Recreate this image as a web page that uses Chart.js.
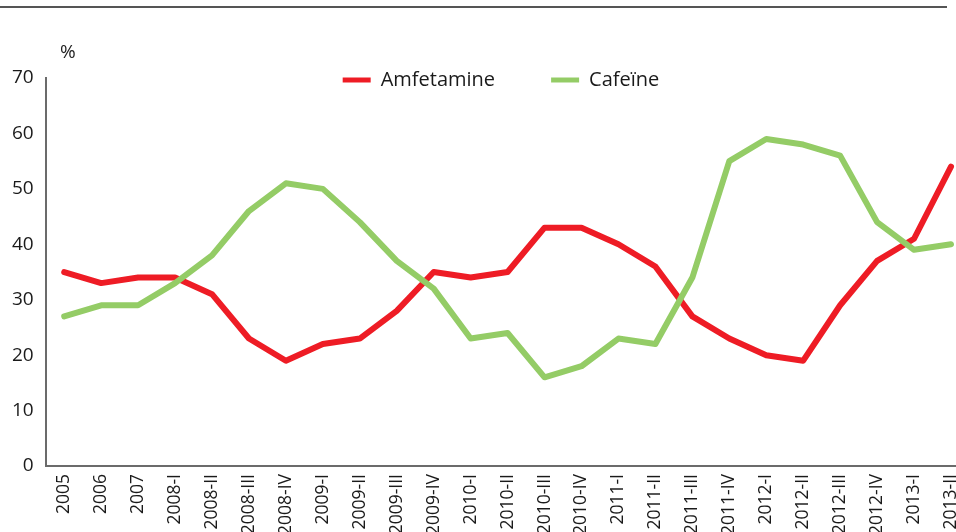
<!DOCTYPE html>
<html>
<head>
<meta charset="utf-8">
<script src="https://cdn.jsdelivr.net/npm/chart.js@4.4.1/dist/chart.umd.min.js"></script>
<style>
  html, body { margin: 0; padding: 0; background: #ffffff; overflow: hidden; width: 956px; height: 532px; }
  #wrap { position: absolute; left: 0; top: 0; width: 980px; height: 560px; }
</style>
</head>
<body>
<div id="wrap"><canvas id="c" width="980" height="560"></canvas></div>
<script>
const categories = ["2005","2006","2007","2008-I","2008-II","2008-III","2008-IV","2009-I","2009-II","2009-III","2009-IV","2010-I","2010-II","2010-III","2010-IV","2011-I","2011-II","2011-III","2011-IV","2012-I","2012-II","2012-III","2012-IV","2013-I","2013-II"];
const amfetamine = [35,33,34,34,31,23,19,22,23,28,35,34,35,43,43,40,36,27,23,20,19,29,37,41,54];
const cafeine    = [27,29,29,33,38,46,51,50,44,37,32,23,24,16,18,23,22,34,55,59,58,56,44,39,40];
const seriesNames = ["Amfetamine", "Cafeïne"];
const yTicks = [0,10,20,30,40,50,60,70];
const unitLabel = "%";

const FONT = "'Open Sans', sans-serif";
const AXIS = "#6b6b6b";
const LEGEND_SHIFT_X = 11;

const decor = {
  id: 'decor',
  afterLayout(chart) {
    const lg = chart.legend;
    if (lg) {
      lg.bottom = lg.top + 110;
      lg.height = 110;
      lg.left += LEGEND_SHIFT_X;
      lg.right += LEGEND_SHIFT_X;
    }
  },
  afterDraw(chart) {
    const ctx = chart.ctx;
    ctx.save();
    ctx.fillStyle = "#555555";
    ctx.fillRect(0, 6, 947, 2);
    ctx.fillStyle = "#222222";
    ctx.font = "19px " + FONT;
    ctx.textAlign = "left";
    ctx.textBaseline = "alphabetic";
    ctx.fillText(unitLabel, 60, 58);
    ctx.restore();
  }
};

new Chart(document.getElementById('c'), {
  type: 'line',
  data: {
    labels: categories,
    datasets: [
      { label: seriesNames[0], data: amfetamine, order: 1, borderColor: "#ee1c25", backgroundColor: "#ee1c25",
        borderWidth: 6, pointRadius: 0, tension: 0, borderCapStyle: 'round', borderJoinStyle: 'round' },
      { label: seriesNames[1], data: cafeine, order: 0, borderColor: "#94cc66", backgroundColor: "#94cc66",
        borderWidth: 6, pointRadius: 0, tension: 0, borderCapStyle: 'round', borderJoinStyle: 'round' }
    ]
  },
  options: {
    responsive: false,
    animation: false,
    events: [],
    layout: { padding: { top: 14, left: 0, right: 0, bottom: 17 } },
    plugins: {
      tooltip: { enabled: false },
      legend: {
        position: 'top',
        align: 'center',
        maxHeight: 64,
        labels: {
          font: { family: FONT, size: 20 },
          color: "#1a1a1a",
          boxWidth: 28,
          boxHeight: 5,
          padding: 56,
          generateLabels(chart) {
            const items = Chart.defaults.plugins.legend.labels.generateLabels(chart);
            items.forEach(i => { i.lineWidth = 0; i.fillStyle = i.strokeStyle; });
            items.sort((a, b) => a.datasetIndex - b.datasetIndex);
            return items;
          }
        }
      }
    },
    scales: {
      x: {
        type: 'category',
        offset: true,
        grid: { display: false, drawTicks: false },
        border: { display: true, color: AXIS, width: 2 },
        ticks: {
          font: { family: FONT, size: 17.5 },
          color: "#1a1a1a",
          minRotation: 90, maxRotation: 90,
          autoSkip: false,
          padding: 8
        }
      },
      y: {
        min: 0, max: 70,
        afterBuildTicks(scale) { scale.ticks = yTicks.map(v => ({ value: v })); },
        grid: { display: false, drawTicks: false },
        border: { display: true, color: AXIS, width: 2 },
        ticks: {
          font: { family: FONT, size: 19 },
          color: "#1a1a1a",
          padding: 12
        }
      }
    }
  },
  plugins: [decor]
});
</script>
</body>
</html>
